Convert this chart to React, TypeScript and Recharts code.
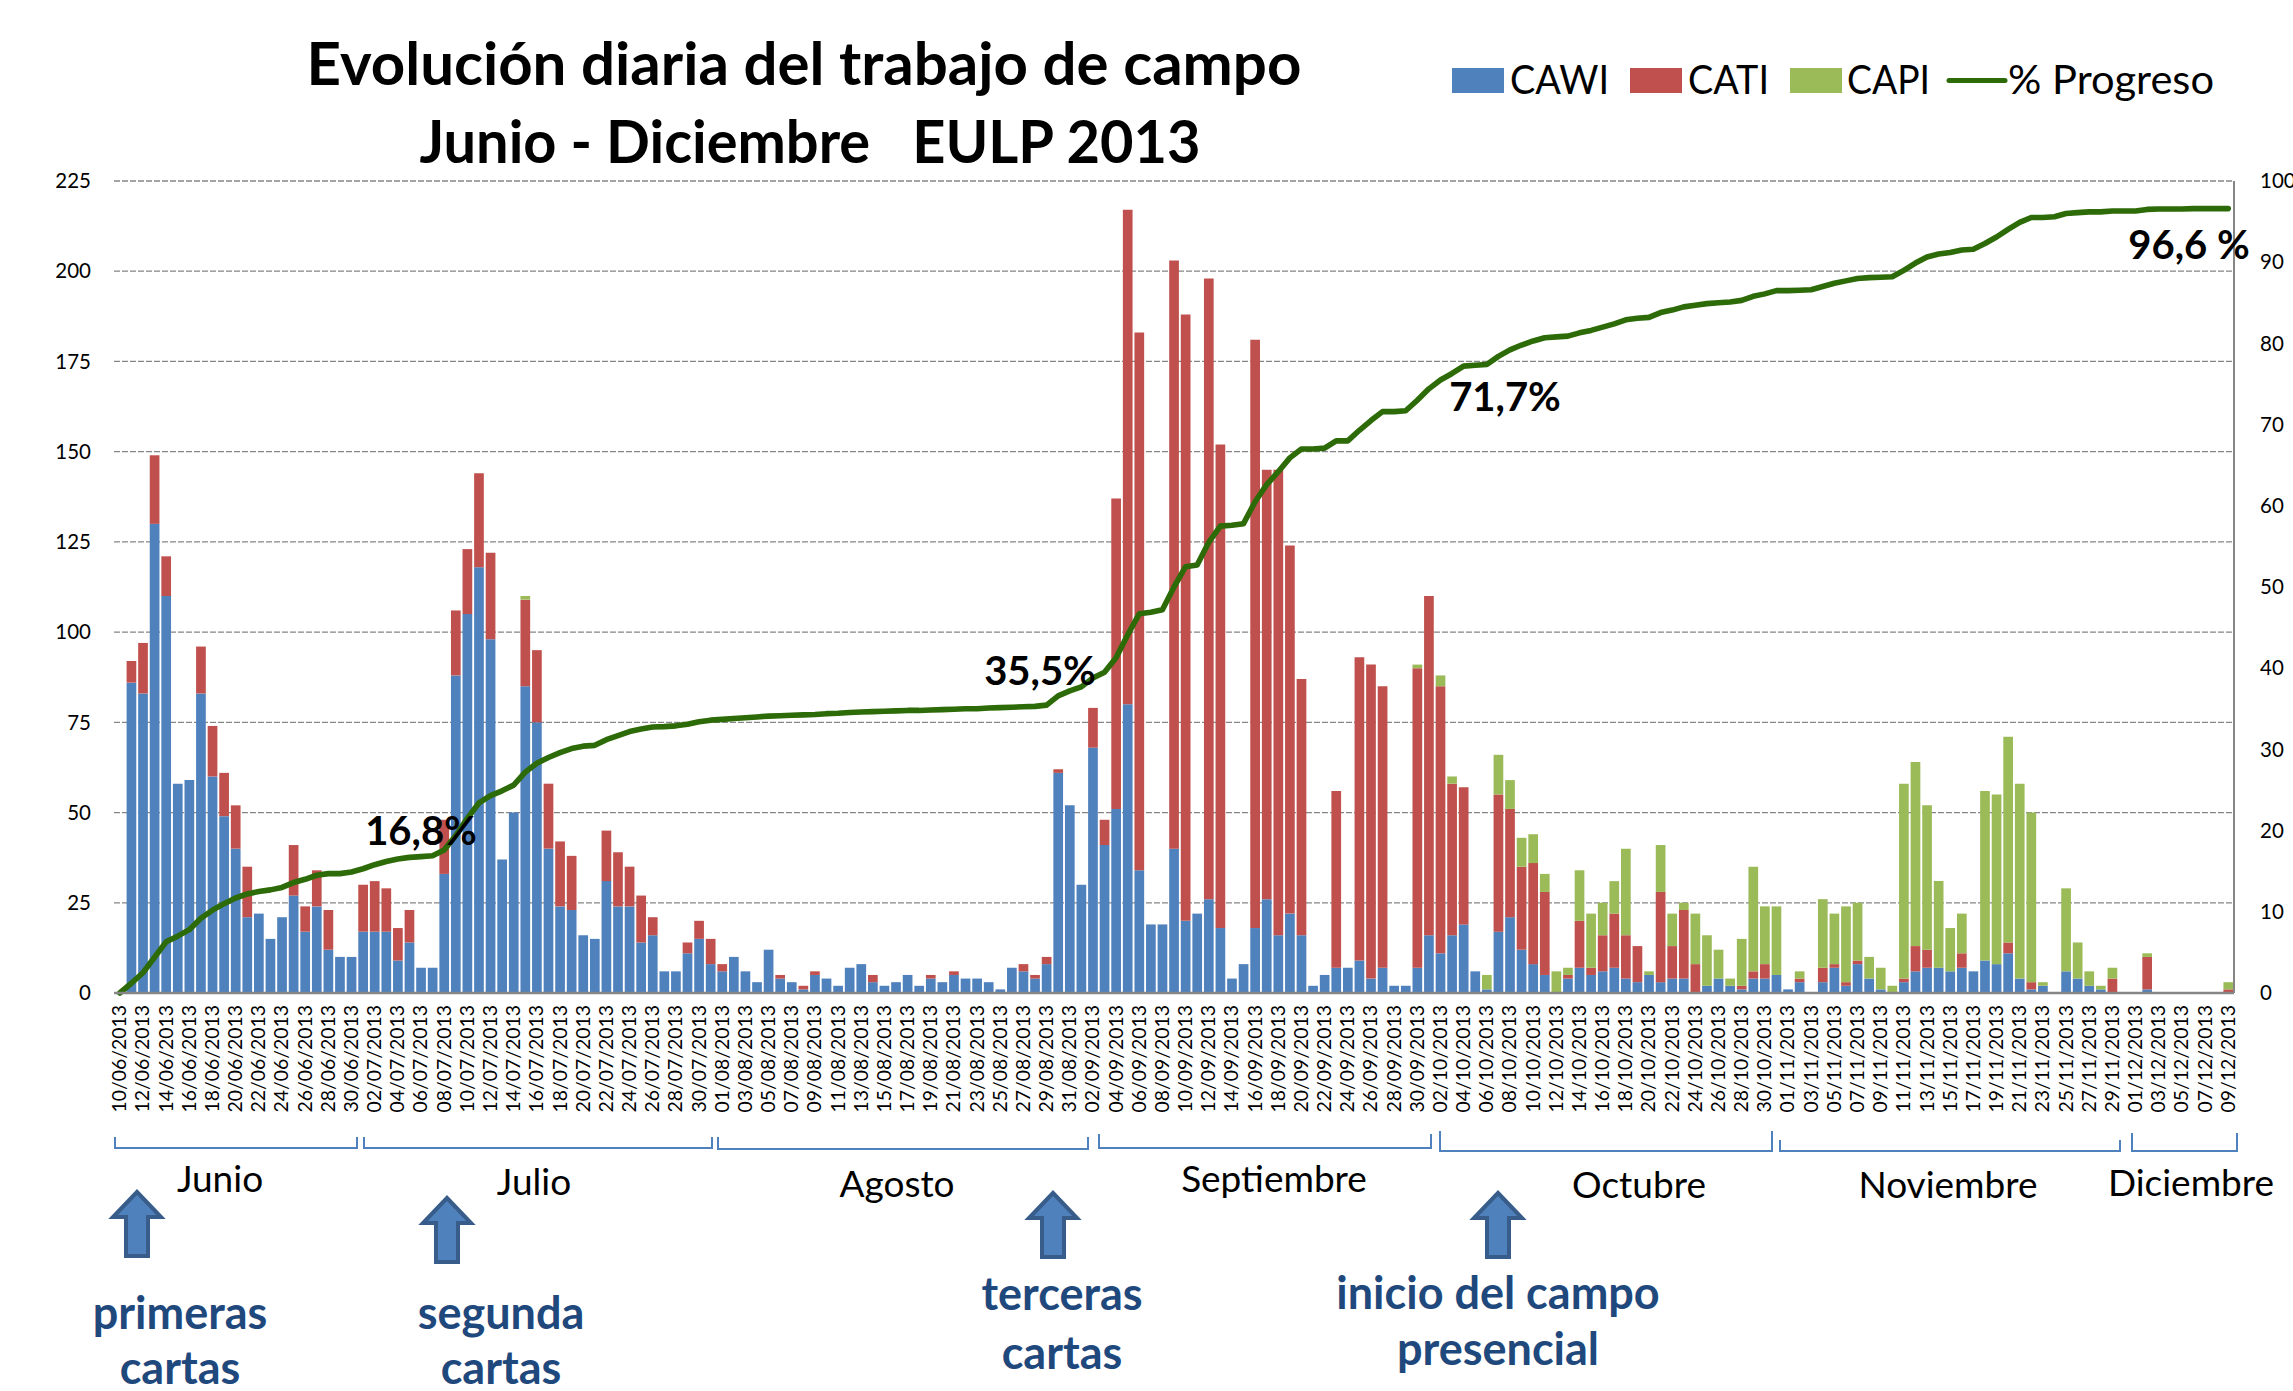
import React from "react";
import { ComposedChart, Bar, Line, XAxis, YAxis, CartesianGrid, Legend } from "recharts";

const MONTHS: [string, number, number][] = [["06", 10, 30], ["07", 1, 31], ["08", 1, 31], ["09", 1, 30], ["10", 1, 31], ["11", 1, 30], ["12", 1, 9]];
const categories: string[] = [];
for (const [m, a, b] of MONTHS) for (let d = a; d <= b; d++) categories.push(`${String(d).padStart(2, "0")}/${m}/2013`);

const cawi = [
  0, 86, 83, 130, 110, 58, 59, 83, 60, 49, 40,
  21, 22, 15, 21, 27, 17, 24, 12, 10, 10,
  17, 17, 17, 9, 14, 7, 7, 33, 88, 105,
  118, 98, 37, 50, 85, 75, 40, 24, 23, 16,
  15, 31, 24, 24, 14, 16, 6, 6, 11, 15,
  8, 6, 10, 6, 3, 12, 4, 3, 1, 5,
  4, 2, 7, 8, 3, 2, 3, 5, 2, 4,
  3, 5, 4, 4, 3, 1, 7, 6, 4, 8,
  61, 52, 30, 68, 41, 51, 80, 34, 19, 19,
  40, 20, 22, 26, 18, 4, 8, 18, 26, 16,
  22, 16, 2, 5, 7, 7, 9, 4, 7, 2,
  2, 7, 16, 11, 16, 19, 6, 1, 17, 21,
  12, 8, 5, 0, 4, 7, 5, 6, 7, 4,
  3, 5, 3, 4, 4, 0, 2, 4, 2, 1,
  4, 4, 5, 1, 3, 0, 3, 7, 2, 8,
  4, 1, 0, 3, 6, 7, 7, 6, 7, 6,
  9, 8, 11, 4, 1, 2, 0, 6, 4, 2,
  1, 0, 0, 0, 1, 0, 0, 0, 0, 0,
  0, 0,
];
const cati = [
  0, 6, 14, 19, 11, 0, 0, 13, 14, 12, 12,
  14, 0, 0, 0, 14, 7, 10, 11, 0, 0,
  13, 14, 12, 9, 9, 0, 0, 15, 18, 18,
  26, 24, 0, 0, 24, 20, 18, 18, 15, 0,
  0, 14, 15, 11, 13, 5, 0, 0, 3, 5,
  7, 2, 0, 0, 0, 0, 1, 0, 1, 1,
  0, 0, 0, 0, 2, 0, 0, 0, 0, 1,
  0, 1, 0, 0, 0, 0, 0, 2, 1, 2,
  1, 0, 0, 11, 7, 86, 137, 149, 0, 0,
  163, 168, 0, 172, 134, 0, 0, 163, 119, 129,
  102, 71, 0, 0, 49, 0, 84, 87, 78, 0,
  0, 83, 94, 74, 42, 38, 0, 0, 38, 30,
  23, 28, 23, 0, 1, 13, 2, 10, 15, 12,
  10, 0, 25, 9, 19, 8, 0, 0, 0, 1,
  2, 4, 0, 0, 1, 0, 4, 1, 1, 1,
  0, 0, 0, 1, 7, 5, 0, 0, 4, 0,
  0, 0, 3, 0, 2, 0, 0, 0, 0, 0,
  0, 4, 0, 0, 9, 0, 0, 0, 0, 0,
  0, 1,
];
const capi = [
  0, 0, 0, 0, 0, 0, 0, 0, 0, 0, 0,
  0, 0, 0, 0, 0, 0, 0, 0, 0, 0,
  0, 0, 0, 0, 0, 0, 0, 0, 0, 0,
  0, 0, 0, 0, 1, 0, 0, 0, 0, 0,
  0, 0, 0, 0, 0, 0, 0, 0, 0, 0,
  0, 0, 0, 0, 0, 0, 0, 0, 0, 0,
  0, 0, 0, 0, 0, 0, 0, 0, 0, 0,
  0, 0, 0, 0, 0, 0, 0, 0, 0, 0,
  0, 0, 0, 0, 0, 0, 0, 0, 0, 0,
  0, 0, 0, 0, 0, 0, 0, 0, 0, 0,
  0, 0, 0, 0, 0, 0, 0, 0, 0, 0,
  0, 1, 0, 3, 2, 0, 0, 4, 11, 8,
  8, 8, 5, 6, 2, 14, 15, 9, 9, 24,
  0, 1, 13, 9, 2, 14, 14, 8, 2, 13,
  29, 16, 19, 0, 2, 0, 19, 14, 21, 16,
  6, 6, 2, 54, 51, 40, 24, 12, 11, 0,
  47, 47, 57, 54, 47, 1, 0, 23, 10, 4,
  1, 3, 0, 0, 1, 0, 0, 0, 0, 0,
  0, 2,
];
const progreso = [
  0, 1.2, 2.5, 4.4, 6.3, 7, 7.8, 9.2, 10.2, 11, 11.7,
  12.2, 12.5, 12.7, 13, 13.6, 14, 14.5, 14.7, 14.7, 14.9,
  15.3, 15.8, 16.2, 16.5, 16.7, 16.8, 16.9, 17.6, 19.4, 21.5,
  23.4, 24.3, 24.9, 25.6, 27.2, 28.3, 29, 29.6, 30.1, 30.4,
  30.5, 31.2, 31.7, 32.2, 32.5, 32.75, 32.8, 32.9, 33.1, 33.4,
  33.6, 33.7, 33.8, 33.9, 34, 34.1, 34.15, 34.2, 34.25, 34.3,
  34.4, 34.45, 34.55, 34.6, 34.65, 34.7, 34.75, 34.8, 34.8, 34.85,
  34.9, 34.95, 35, 35, 35.1, 35.15, 35.2, 35.25, 35.3, 35.45,
  36.6, 37.2, 37.7, 38.8, 39.5, 41.3, 44.1, 46.7, 46.9, 47.2,
  50, 52.5, 52.7, 55.5, 57.5, 57.6, 57.8, 60.5, 62.6, 64.2,
  65.9, 67, 67, 67.1, 68, 68, 69.3, 70.5, 71.6, 71.6,
  71.7, 73, 74.4, 75.5, 76.3, 77.2, 77.3, 77.4, 78.4, 79.2,
  79.8, 80.3, 80.7, 80.8, 80.9, 81.3, 81.6, 82, 82.4, 82.9,
  83.1, 83.2, 83.8, 84.1, 84.5, 84.7, 84.9, 85, 85.1, 85.3,
  85.8, 86.1, 86.5, 86.5, 86.55, 86.6, 87, 87.4, 87.7, 88,
  88.1, 88.15, 88.2, 89, 89.9, 90.65, 91, 91.2, 91.5, 91.6,
  92.3, 93.1, 94.05, 94.9, 95.5, 95.5, 95.6, 96, 96.1, 96.2,
  96.2, 96.3, 96.3, 96.3, 96.5, 96.55, 96.55, 96.55, 96.6, 96.6,
  96.6, 96.6,
];
const leftTicks = [0, 25, 50, 75, 100, 125, 150, 175, 200, 225];
const rightTicks = [0, 10, 20, 30, 40, 50, 60, 70, 80, 90, 100];

const data = categories.map((name, i) => ({ name, CAWI: cawi[i], CATI: cati[i], CAPI: capi[i], "% Progreso": progreso[i] }));

const FONT = "Lato, sans-serif";
const BLUE = "#4F81BD", RED = "#C0504D", GREEN = "#9BBB59", LINE = "#2D6A08", GRAY = "#868686", NAVY = "#1F497D";

const DateTick = (p: any) => (
  <text x={p.x} y={p.y + 4} transform={`rotate(-90 ${p.x} ${p.y + 4})`} textAnchor="end" dy={6.5} fontFamily={FONT} fontSize={19.4} fill="#000">
    {p.payload.value}
  </text>
);

const LEGEND_POS: Record<string, { sx: number; sw: number; tx: number; tw: number }> = {
  CAWI: { sx: 1452, sw: 52, tx: 1510, tw: 99 },
  CATI: { sx: 1630, sw: 52, tx: 1688, tw: 81 },
  CAPI: { sx: 1790, sw: 52, tx: 1847, tw: 83 },
  "% Progreso": { sx: 1949, sw: 56, tx: 2008, tw: 206 },
};
const LegendContent = (props: any) => (
  <svg width={2293} height={130} style={{ position: "absolute", left: 0, top: 0, pointerEvents: "none" }}>
    {(props.payload || []).map((e: any) => {
      const pos = LEGEND_POS[e.value];
      if (!pos) return null;
      return (
        <g key={e.value}>
          {e.value === "% Progreso" ? (
            <line x1={pos.sx} x2={pos.sx + pos.sw} y1={80.5} y2={80.5} stroke={e.color} strokeWidth={5} strokeLinecap="round" />
          ) : (
            <rect x={pos.sx} y={68} width={pos.sw} height={25} fill={e.color} />
          )}
          <text x={pos.tx} y={94} fontFamily={FONT} fontSize={41} fill="#000" textLength={pos.tw} lengthAdjust="spacingAndGlyphs">{e.value}</text>
        </g>
      );
    })}
  </svg>
);

const Bracket = ({ a, b, ta, tb, y }: { a: number; b: number; ta: number; tb: number; y: number }) => (
  <path d={`M${a} ${ta}V${y}H${b}V${tb}`} fill="none" stroke={BLUE} strokeWidth={2} />
);
const Arrow = ({ x, y }: { x: number; y: number }) => (
  <path d={`M${x} ${y}L${x + 24} ${y + 25}H${x + 11}V${y + 64}H${x - 11}V${y + 25}H${x - 24}Z`} fill={BLUE} stroke="#385D8A" strokeWidth={4} />
);
const T = ({ x, y, s, size, color = "#000", bold = false, len }: any) => (
  <text x={x} y={y} textAnchor="middle" dominantBaseline="central" fontFamily={FONT} fontSize={size} fontWeight={bold ? 700 : 400} fill={color} textLength={len} lengthAdjust={len ? "spacingAndGlyphs" : undefined}>{s}</text>
);

export default function App() {
  return (
    <div style={{ position: "absolute", left: 0, top: 0, width: 2293, height: 1391, overflow: "hidden", background: "#fff" }}>
      <ComposedChart width={2293} height={1391} data={data} margin={{ top: 181, left: 54, right: 0, bottom: 0 }}>
        <CartesianGrid horizontal vertical={false} stroke={GRAY} strokeWidth={1.3} strokeDasharray="6 2" yAxisId="left" />
        <XAxis dataKey="name" interval={1} height={398} tick={<DateTick />} tickLine={false} axisLine={{ stroke: GRAY, strokeWidth: 2.5 }} />
        <YAxis yAxisId="left" width={60} domain={[0, 225]} ticks={leftTicks} interval={0} tickLine={false} axisLine={false} tickSize={0} tickMargin={23} tick={{ fontFamily: FONT, fontSize: 20.5, fill: "#000" }} />
        <YAxis yAxisId="right" orientation="right" width={59} domain={[0, 100]} ticks={rightTicks} interval={0} tickLine={false} axisLine={{ stroke: GRAY, strokeWidth: 2 }} tickSize={0} tickMargin={26} tick={{ fontFamily: FONT, fontSize: 20.5, fill: "#000" }} />
        <Legend content={<LegendContent />} wrapperStyle={{ position: "absolute", left: 0, top: 0, width: 2293, height: 0 }} />
        <Bar yAxisId="left" dataKey="CAWI" stackId="a" fill={BLUE} barSize={9.7} isAnimationActive={false} />
        <Bar yAxisId="left" dataKey="CATI" stackId="a" fill={RED} barSize={9.7} isAnimationActive={false} />
        <Bar yAxisId="left" dataKey="CAPI" stackId="a" fill={GREEN} barSize={9.7} isAnimationActive={false} />
        <Line yAxisId="right" dataKey="% Progreso" type="linear" stroke={LINE} strokeWidth={5.6} strokeLinecap="round" strokeLinejoin="round" dot={false} isAnimationActive={false} />
      </ComposedChart>
      <svg width={2293} height={1391} style={{ position: "absolute", left: 0, top: 0, pointerEvents: "none" }}>
        <T x={804} y={62} s="Evolución diaria del trabajo de campo" size={60} bold />
        <T x={810} y={140} s={"Junio - Diciembre\u00A0\u00A0\u00A0EULP 2013"} size={60} bold len={781} />
        <T x={421} y={830} s="16,8%" size={40} bold />
        <T x={1040} y={670} s="35,5%" size={40} bold />
        <T x={1505} y={396} s="71,7%" size={40} bold />
        <T x={2189} y={244} s="96,6 %" size={40} bold />
        <Bracket a={115} b={357} ta={1137} tb={1137} y={1148} />
        <Bracket a={364} b={712} ta={1137} tb={1137} y={1148} />
        <Bracket a={718} b={1088} ta={1137} tb={1137} y={1149} />
        <Bracket a={1099} b={1431} ta={1134} tb={1134} y={1148} />
        <Bracket a={1440} b={1772} ta={1131} tb={1131} y={1151} />
        <Bracket a={1780} b={2120} ta={1140} tb={1140} y={1151} />
        <Bracket a={2132} b={2237} ta={1133} tb={1133} y={1151} />
        <T x={220} y={1177} s="Junio" size={37} />
        <T x={534} y={1180} s="Julio" size={37} />
        <T x={897} y={1182} s="Agosto" size={37} />
        <T x={1274} y={1177} s="Septiembre" size={37} />
        <T x={1639} y={1183} s="Octubre" size={37} />
        <T x={1948} y={1183} s="Noviembre" size={37} />
        <T x={2191} y={1181} s="Diciembre" size={37} />
        <Arrow x={137} y={1192} />
        <Arrow x={447} y={1198} />
        <Arrow x={1053} y={1193} />
        <Arrow x={1498} y={1193} />
        <T x={180} y={1312} s="primeras" size={45} color={NAVY} bold />
        <T x={180} y={1367} s="cartas" size={45} color={NAVY} bold />
        <T x={501} y={1312} s="segunda" size={45} color={NAVY} bold />
        <T x={501} y={1367} s="cartas" size={45} color={NAVY} bold />
        <T x={1062} y={1293} s="terceras" size={45} color={NAVY} bold />
        <T x={1062} y={1352} s="cartas" size={45} color={NAVY} bold />
        <T x={1498} y={1292} s="inicio del campo" size={45} color={NAVY} bold />
        <T x={1498} y={1348} s="presencial" size={45} color={NAVY} bold />
      </svg>
    </div>
  );
}
